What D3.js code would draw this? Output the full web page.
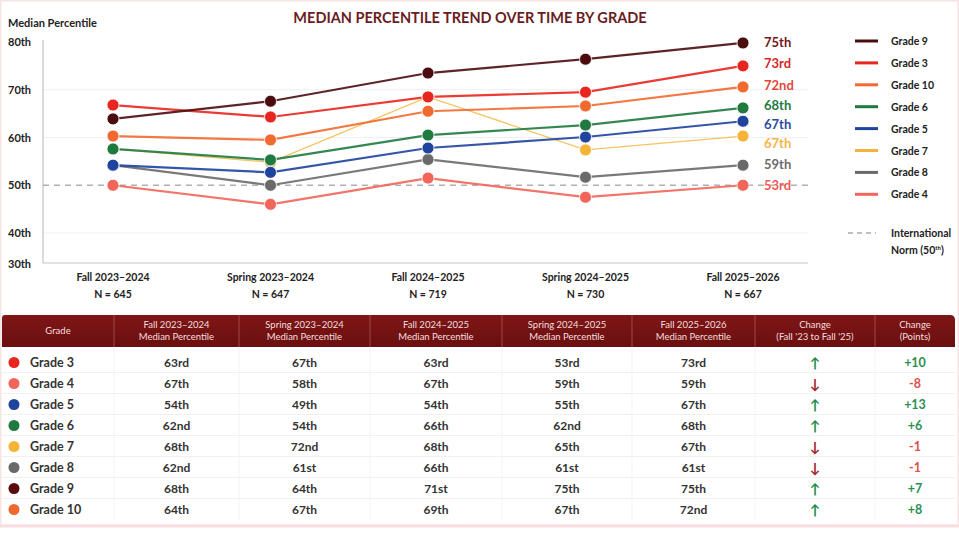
<!DOCTYPE html>
<html>
<head>
<meta charset="utf-8">
<script src="https://cdn.jsdelivr.net/npm/d3@7"></script>
<style>
  body { margin: 0; background: #fff; }
  svg { display: block; font-family: Lato, "Open Sans", sans-serif; }
</style>
</head>
<body>
<script>
// chart data
const periods = ["Fall 2023\u20132024", "Spring 2023\u20132024", "Fall 2024\u20132025", "Spring 2024\u20132025", "Fall 2025\u20132026"];
const periodN = ["N = 645", "N = 647", "N = 719", "N = 730", "N = 667"];

const seriesNames = ["Grade 9", "Grade 3", "Grade 10", "Grade 6", "Grade 5", "Grade 7", "Grade 8", "Grade 4"];
const seriesColors = ["#4a0c0e", "#e8261f", "#f06a30", "#1f7a3f", "#1f449e", "#f5b437", "#6a6a6a", "#f1655b"];
const seriesWidths = [2.2, 2.2, 2.2, 2.2, 2.2, 1.3, 2.2, 2.2];
const seriesValues = [
  [63.9, 67.6, 73.5, 76.4, 79.8],
  [66.8, 64.3, 68.5, 69.5, 75.0],
  [60.3, 59.5, 65.5, 66.6, 70.6],
  [57.6, 55.3, 60.5, 62.6, 66.2],
  [54.2, 52.7, 57.8, 60.1, 63.4],
  [57.6, 54.8, 68.5, 57.4, 60.3],
  [54.2, 50.0, 55.4, 51.7, 54.2],
  [50.0, 46.0, 51.5, 47.5, 50.0]
];
const endLabels = ["75th", "73rd", "72nd", "68th", "67th", "67th", "59th", "53rd"];
const endLabelColors = ["#6e1a1e", "#d8282a", "#e2473a", "#1f7a3f", "#2a4aa0", "#f3b54a", "#6a6a6a", "#ef5a55"];

const yTicks = [30, 40, 50, 60, 70, 80];
const normValue = 50;

// table data
const tableGrades = ["Grade 3", "Grade 4", "Grade 5", "Grade 6", "Grade 7", "Grade 8", "Grade 9", "Grade 10"];
const tableDotColors = ["#e8261f", "#f1655b", "#1f449e", "#1f7a3f", "#f5b437", "#6a6a6a", "#5a0a0c", "#f06a30"];
const colFall23 = ["63rd", "67th", "54th", "62nd", "68th", "62nd", "68th", "64th"];
const colSpring23 = ["67th", "58th", "49th", "54th", "72nd", "61st", "64th", "67th"];
const colFall24 = ["63rd", "67th", "54th", "66th", "68th", "66th", "71st", "69th"];
const colSpring24 = ["53rd", "59th", "55th", "62nd", "65th", "61st", "75th", "67th"];
const colFall25 = ["73rd", "59th", "67th", "68th", "67th", "61st", "75th", "72nd"];
const changePoints = [10, -8, 13, 6, -1, -1, 7, 8];
const tableHeaders = [
  ["Grade"],
  ["Fall 2023\u20132024", "Median Percentile"],
  ["Spring 2023\u20132024", "Median Percentile"],
  ["Fall 2024\u20132025", "Median Percentile"],
  ["Spring 2024\u20132025", "Median Percentile"],
  ["Fall 2025\u20132026", "Median Percentile"],
  ["Change", "(Fall '23 to Fall '25)"],
  ["Change", "(Points)"]
];

const W = 959, H = 533;
const svg = d3.select("body").append("svg").attr("width", W).attr("height", H);

// light pink frame
svg.append("rect").attr("x", 0.5).attr("y", 0.5).attr("width", W - 1).attr("height", H - 8)
  .attr("fill", "none").attr("stroke", "#f7e3e3").attr("stroke-width", 2);

// scales
const x = d3.scalePoint().domain(periods).range([113, 743]);
// bottom of the axis is compressed (30th sits just below 40th)
const y = d3.scaleLinear().domain([30, 40, 80]).range([264, 233, 42]);
const plotLeft = 43, plotRight = 808, plotBottom = 263;

// title
svg.append("text").attr("x", 470).attr("y", 23).attr("text-anchor", "middle")
  .attr("font-size", 14.5).attr("font-weight", 700).attr("fill", "#6a1c22")
  .text("MEDIAN PERCENTILE TREND OVER TIME BY GRADE");
svg.append("text").attr("x", 8).attr("y", 27).attr("font-size", 11).attr("font-weight", 700)
  .attr("fill", "#222").text("Median Percentile");

// gridlines
svg.append("g").selectAll("line").data([40, 60, 70]).enter().append("line")
  .attr("x1", plotLeft).attr("x2", plotRight)
  .attr("y1", d => y(d)).attr("y2", d => y(d))
  .attr("stroke", "#efefef").attr("stroke-width", 1);

// y axis
const yAxis = d3.axisLeft(y).tickValues(yTicks).tickSize(0).tickFormat(d => d + "th");
const yg = svg.append("g").attr("transform", `translate(${plotLeft},0)`).call(yAxis);
yg.select(".domain").attr("stroke", "#b5b5b5").attr("d", `M0,${y(80) - 2}V${plotBottom}`);
yg.selectAll("text").attr("x", -35).attr("text-anchor", "start")
  .attr("font-family", "Lato, sans-serif").attr("font-size", 11).attr("font-weight", 700).attr("fill", "#222");

// x axis line
svg.append("line").attr("x1", plotLeft).attr("x2", plotRight).attr("y1", plotBottom).attr("y2", plotBottom)
  .attr("stroke", "#c4c4c4").attr("stroke-width", 1.2);

// x labels
const xl = svg.append("g").selectAll("g").data(periods).enter().append("g")
  .attr("transform", d => `translate(${x(d)},0)`);
xl.append("text").attr("y", 281).attr("text-anchor", "middle").attr("font-size", 10.5)
  .attr("font-weight", 700).attr("fill", "#222").text(d => d);
xl.append("text").attr("y", 298).attr("text-anchor", "middle").attr("font-size", 10.5)
  .attr("font-weight", 700).attr("fill", "#222").text((d, i) => periodN[i]);

// international norm
svg.append("line").attr("x1", plotLeft).attr("x2", plotRight)
  .attr("y1", y(normValue)).attr("y2", y(normValue))
  .attr("stroke", "#b0b0b0").attr("stroke-width", 1.5).attr("stroke-dasharray", "6,5");

// lines first (yellow underneath), then dots
const line = d3.line().x((d, i) => x(periods[i])).y(d => y(d));
const lineOrder = [5, 7, 6, 4, 3, 2, 1, 0];
svg.append("g").selectAll("path").data(lineOrder).enter().append("path")
  .attr("d", i => line(seriesValues[i])).attr("fill", "none")
  .attr("stroke", i => seriesColors[i]).attr("stroke-width", i => seriesWidths[i])
  .attr("opacity", i => i === 5 ? 0.8 : 0.9);
const dotOrder = d3.range(seriesNames.length).reverse();
const dg = svg.append("g").selectAll("g").data(dotOrder).enter().append("g");
dg.selectAll("circle").data(i => seriesValues[i].map(v => ({ v: v, c: seriesColors[i] })))
  .enter().append("circle")
  .attr("cx", (d, j) => x(periods[j])).attr("cy", d => y(d.v)).attr("r", 6)
  .attr("fill", d => d.c).attr("stroke", "#fff").attr("stroke-width", 0.8);

// end labels
const endY = [42, 63, 85, 105, 124, 143, 164, 185];
svg.append("g").selectAll("text").data(endLabels).enter().append("text")
  .attr("x", 764).attr("y", (d, i) => endY[i] + 5)
  .attr("font-size", 13).attr("font-weight", 700)
  .attr("fill", (d, i) => endLabelColors[i]).text(d => d);

// legend
const lg = svg.append("g").selectAll("g").data(seriesNames).enter().append("g")
  .attr("transform", (d, i) => `translate(855,${41 + i * 21.9})`);
lg.append("line").attr("x1", 0).attr("x2", 23).attr("stroke", (d, i) => seriesColors[i]).attr("stroke-width", 3);
lg.append("text").attr("x", 36).attr("y", 4).attr("font-size", 10.5).attr("font-weight", 700)
  .attr("fill", "#222").text(d => d);
svg.append("line").attr("x1", 848).attr("x2", 876).attr("y1", 233).attr("y2", 233)
  .attr("stroke", "#aaa").attr("stroke-width", 1.5).attr("stroke-dasharray", "5,4");
svg.append("text").attr("x", 891).attr("y", 237).attr("font-size", 10.5).attr("font-weight", 700)
  .attr("fill", "#222").text("International");
const normText = svg.append("text").attr("x", 891).attr("y", 254).attr("font-size", 10.5)
  .attr("font-weight", 700).attr("fill", "#222").text("Norm (50");
normText.append("tspan").attr("font-size", 6).attr("dy", -4).text("th");
normText.append("tspan").attr("dy", 4).text(")");

// table
const colEdges = [2, 114, 239, 370, 502, 632, 755, 875, 955];
const headTop = 315, headBottom = 347, rowTop = 352, rowH = 21;
const colMid = i => (colEdges[i] + colEdges[i + 1]) / 2;

const grad = svg.append("defs").append("linearGradient").attr("id", "hdr").attr("x1", 0).attr("x2", 0).attr("y1", 0).attr("y2", 1);
grad.append("stop").attr("offset", 0).attr("stop-color", "#7f1616");
grad.append("stop").attr("offset", 1).attr("stop-color", "#6a0f10");
svg.append("path")
  .attr("d", `M${colEdges[0]},${headBottom}V${headTop + 3}Q${colEdges[0]},${headTop} ${colEdges[0] + 3},${headTop}H${colEdges[8] - 5}Q${colEdges[8]},${headTop} ${colEdges[8]},${headTop + 5}V${headBottom}Z`)
  .attr("fill", "url(#hdr)");
svg.append("g").selectAll("line").data(colEdges.slice(1, 8)).enter().append("line")
  .attr("x1", d => d).attr("x2", d => d).attr("y1", headTop).attr("y2", headBottom)
  .attr("stroke", "#a04848").attr("stroke-width", 1);
const hg = svg.append("g").selectAll("text").data(tableHeaders).enter().append("text")
  .attr("text-anchor", "middle").attr("font-size", 9.5).attr("fill", "#f3dede");
hg.each(function (d, i) {
  const t = d3.select(this);
  const y0 = d.length === 1 ? 334 : 328;
  d.forEach((s, k) => t.append("tspan").attr("x", colMid(i)).attr("y", y0 + k * 12).text(s));
});

// row grid
svg.append("g").selectAll("line").data(d3.range(1, 8)).enter().append("line")
  .attr("x1", colEdges[0]).attr("x2", colEdges[8])
  .attr("y1", d => rowTop + d * rowH - 0.5).attr("y2", d => rowTop + d * rowH - 0.5)
  .attr("stroke", "#f0f0f0");
svg.append("g").selectAll("line").data(colEdges.slice(1, 8)).enter().append("line")
  .attr("x1", d => d).attr("x2", d => d).attr("y1", headBottom).attr("y2", rowTop + 8 * rowH)
  .attr("stroke", "#f3f3f3");
svg.append("line").attr("x1", 0).attr("x2", W).attr("y1", 526).attr("y2", 526)
  .attr("stroke", "#f8dede").attr("stroke-width", 3);

const rows = svg.append("g").selectAll("g").data(tableGrades).enter().append("g")
  .attr("transform", (d, i) => `translate(0,${rowTop + i * rowH + rowH / 2})`);
rows.append("circle").attr("cx", 14).attr("cy", 0).attr("r", 5.5).attr("fill", (d, i) => tableDotColors[i]);
rows.append("text").attr("x", 30).attr("y", 4.5).attr("font-size", 12.5).attr("font-weight", 700)
  .attr("fill", "#333").text(d => d);
const valueCols = [colFall23, colSpring23, colFall24, colSpring24, colFall25];
valueCols.forEach((col, c) => {
  rows.append("text").attr("x", colMid(c + 1)).attr("y", 4.5).attr("text-anchor", "middle")
    .attr("font-size", 12).attr("font-weight", 700).attr("fill", "#333").text((d, i) => col[i]);
});
rows.append("text").attr("x", colMid(6)).attr("y", 5).attr("text-anchor", "middle")
  .attr("font-size", 14).attr("font-weight", 700)
  .attr("fill", (d, i) => changePoints[i] > 0 ? "#1f8a4c" : "#a3222a")
  .text((d, i) => changePoints[i] > 0 ? "\u2191" : "\u2193");
rows.append("text").attr("x", colMid(7)).attr("y", 4.5).attr("text-anchor", "middle")
  .attr("font-size", 12.5).attr("font-weight", 700)
  .attr("fill", (d, i) => changePoints[i] > 0 ? "#2b9153" : "#e0504c")
  .text((d, i) => (changePoints[i] > 0 ? "+" : "") + changePoints[i]);
</script>
</body>
</html>
